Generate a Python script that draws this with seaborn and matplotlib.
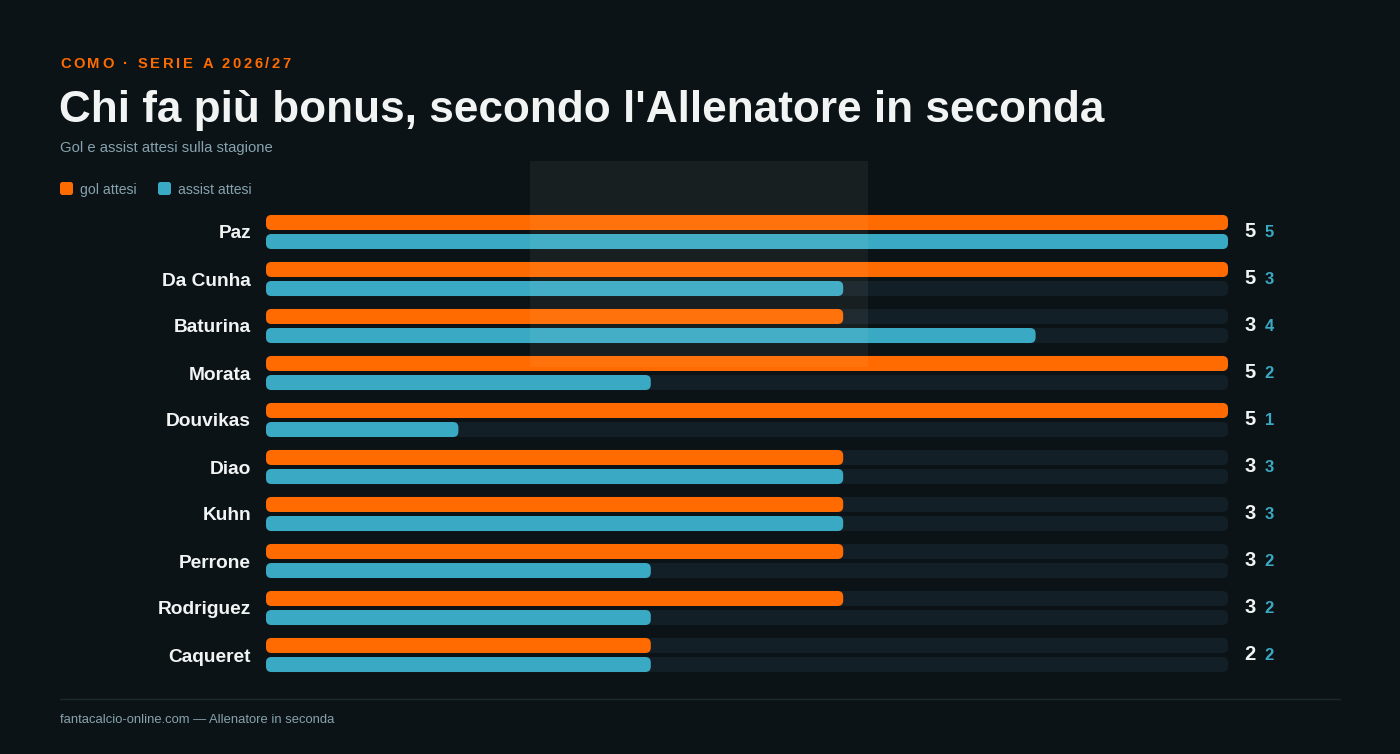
import numpy as np
import pandas as pd
import matplotlib
matplotlib.use("Agg")
import matplotlib.pyplot as plt
import seaborn as sns
from matplotlib.patches import FancyBboxPatch, Rectangle

# --------------------------
# DATI
# --------------------------
players = ["Paz", "Da Cunha", "Baturina", "Morata", "Douvikas",
           "Diao", "Kuhn", "Perrone", "Rodriguez", "Caqueret"]
gol = [5, 5, 3, 5, 5, 3, 3, 3, 3, 2]
assist = [5, 3, 4, 2, 1, 3, 3, 2, 2, 2]
series = ["gol attesi", "assist attesi"]
scale_max = 5

BG = "#0b1316"
ORANGE = "#ff6b00"
TEAL = "#3aaac4"
TRACK = "#131f26"
WHITE = "#f2f4f4"
MUTED = "#87a2ad"

W, H = 1400, 754
FONT = "Liberation Sans"


def fx(x):
    return x / W


def fy(y):
    return 1 - y / H


df = pd.DataFrame({
    "player": players * 2,
    "tipo": [series[0]] * len(players) + [series[1]] * len(players),
    "valore": gol + assist,
})

sns.set_theme(style="white")
plt.rcParams["font.family"] = [FONT, "DejaVu Sans"]

fig = plt.figure(figsize=(W / 100, H / 100), dpi=100, facecolor=BG)

# area barre: x 266..1228, righe da 47 px
left, right = 266, 1228
top, bottom = 208.5, 678.5
ax = fig.add_axes([fx(left), fy(bottom), fx(right - left), (bottom - top) / H])
ax.set_facecolor("none")

sns.barplot(data=df, y="player", x="valore", hue="tipo", orient="h",
            palette=[ORANGE, TEAL], hue_order=series, width=0.81, gap=0.21,
            saturation=1, legend=False, ax=ax)

ax.set_xlim(0, scale_max)
ax.set_ylim(len(players) - 0.5, -0.5)

px_x = (right - left) / scale_max
px_y = (bottom - top) / len(players)
r = 5.5 / px_x
asp = px_x / px_y

bars = list(ax.patches)
for p in bars:
    x, y, w, h = p.get_x(), p.get_y(), p.get_width(), p.get_height()
    ax.add_patch(FancyBboxPatch((0, y), scale_max, h,
                                boxstyle=f"round,pad=0,rounding_size={r}",
                                mutation_aspect=asp, fc=TRACK, ec="none", zorder=1))
    ax.add_patch(FancyBboxPatch((x, y), w, h,
                                boxstyle=f"round,pad=0,rounding_size={r}",
                                mutation_aspect=asp, fc=p.get_facecolor(), ec="none", zorder=2))
    p.remove()

for s in ax.spines.values():
    s.set_visible(False)
ax.set_xlabel("")
ax.set_ylabel("")
ax.set_xticks([])
ax.tick_params(axis="y", length=0, pad=10.8)
ax.set_yticks(range(len(players)))
ax.set_yticklabels(players, fontsize=13.8, fontweight="bold", color=WHITE)

for i, (g, a) in enumerate(zip(gol, assist)):
    ax.annotate(str(g), (scale_max, i), xytext=(15.6, 0.6), textcoords="offset points",
                ha="center", va="center", fontsize=14.5, fontweight="bold", color=WHITE)
    ax.annotate(str(a), (scale_max, i), xytext=(29.8, -0.4), textcoords="offset points",
                ha="center", va="center", fontsize=12, fontweight="bold", color=TEAL)

# watermark (approssimato)
fig.add_artist(Rectangle((fx(530), fy(367)), fx(338), (367 - 161) / H,
                         transform=fig.transFigure, fc="white", alpha=0.05,
                         ec="none", zorder=5))

# --------------------------
# TESTI
# --------------------------
fig.canvas.draw()
renderer = fig.canvas.get_renderer()


def text_width(s, **kw):
    t = fig.text(0, 0, s, **kw)
    w = t.get_window_extent(renderer).width
    t.remove()
    return w


kicker = "COMO · SERIE A 2026/27"
kstyle = dict(fontsize=10.6, fontweight="bold", color=ORANGE)
track = 2.67
h_w = text_width("H", **kstyle)
for i, ch in enumerate(kicker):
    if ch == " ":
        continue
    pos = text_width(kicker[:i] + "H", **kstyle) - h_w if i else 0
    fig.text(fx(60 + pos + i * track), fy(68), ch, ha="left", va="baseline", **kstyle)

fig.text(fx(59), fy(122), "Chi fa più bonus, secondo l'Allenatore in seconda",
         fontsize=31.8, fontweight="bold", color=WHITE, ha="left", va="baseline")
fig.text(fx(60), fy(152), "Gol e assist attesi sulla stagione",
         fontsize=10.75, color=MUTED, ha="left", va="baseline")

# legenda
for lx, col, lab in [(60, ORANGE, series[0]), (158, TEAL, series[1])]:
    fig.add_artist(FancyBboxPatch((fx(lx), fy(195)), fx(13), 13 / H,
                                  boxstyle="round,pad=0,rounding_size=0.0018",
                                  mutation_aspect=W / H, transform=fig.transFigure,
                                  fc=col, ec="none"))
    fig.text(fx(lx + 20), fy(194), lab, fontsize=10.1, color=MUTED,
             ha="left", va="baseline")

# footer
fig.add_artist(plt.Line2D([fx(60), fx(1340)], [fy(698.5), fy(698.5)],
                          transform=fig.transFigure, color="#1e292f", lw=1))
fig.text(fx(60), fy(723), "fantacalcio-online.com — Allenatore in seconda",
         fontsize=9.33, color=MUTED, ha="left", va="baseline")

fig.savefig("out.png", dpi=100, facecolor=BG)
